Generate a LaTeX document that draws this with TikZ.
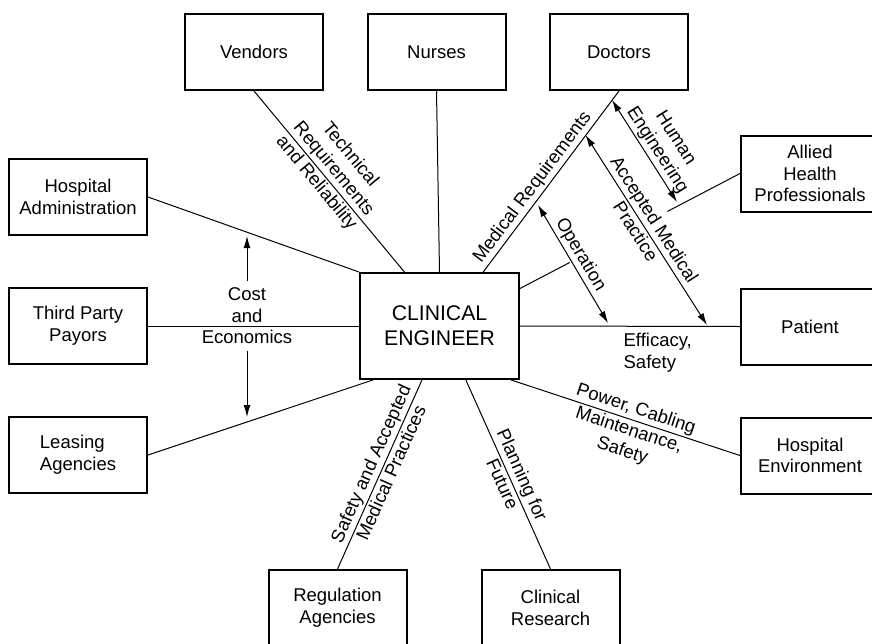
\documentclass[tikz,border=0pt]{standalone}
\usepackage{fontspec}
\setmainfont{Liberation Sans}
\usepackage{tikz}
\usetikzlibrary{calc}
\usetikzlibrary{arrows.meta}
\tikzset{ link_text/.style = {font=\fontsize{9.25}{10.8}\selectfont, align=center} }
\tikzset{ party_box/.style = {rectangle, draw, line width=1pt, minimum width=69pt, minimum height=38pt, link_text} }
\tikzset{ centre_box/.style = {party_box, minimum width=79.5pt, minimum height=53pt, font=\fontsize{10.6}{12.6}\selectfont} }
\tikzset{ link_label/.style = {link_text, sloped, inner sep=1pt} }
\tikzset{ both_ways/.style = {<->, >={Latex[length=6pt, width=3.5pt]}} }
\tikzset{ one_way/.style = {->, >={Latex[length=6pt, width=3.5pt]}} }

\begin{document}
\begin{tikzpicture}[x=0.5pt, y=-0.5pt, line width=0.5pt]
        \useasboundingbox (0,0) rectangle (872,643);
        \node[party_box] (VN) at (254,52) {Vendors};
        \node[party_box] (NR) at (436.5,52) {Nurses};
        \node[party_box] (DR) at (619,52) {Doctors};
        \node[party_box] (AH) at (810,173.5) {Allied\\Health\\Professionals};
        \node[party_box] (PT) at (810,326.5) {Patient};
        \node[party_box] (HE) at (810,455.5) {Hospital\\Environment};
        \node[party_box] (HA) at (78,197) {Hospital\\Administration};
        \node[party_box] (TP) at (78,326) {Third Party\\Payors};
        \node[party_box, align=left] (LA) at (78,455) {Leasing\\Agencies};
        \node[party_box] (RG) at (337.5,608) {Regulation\\Agencies};
        \node[party_box] (CR) at (550.5,608) {Clinical\\Research};
        \node[centre_box] (CE) at (439.5,326) {CLINICAL\\ENGINEER};

        \draw (VN.south) to node[link_label, above, pos=0.47] {Technical\\Requirements}
                node[link_label, below, pos=0.47] {and Reliability} (CE.123);
        \draw (NR.south) to (CE.north);
        \draw (CE.51) to node[link_label, above, pos=0.43] {Medical Requirements} (DR.south);
        \coordinate (AH_end) at ($(AH.west)!0.33!(CE.25)$);
        \coordinate (OP_end) at ($(AH.west)!0.774!(CE.25)$);
        \draw (AH.west) to (AH_end);
        \draw (CE.25) to (OP_end);
        \draw (CE.east) to node[link_text, align=left, below, pos=0.626] {Efficacy,\\Safety} (PT.west);
        \draw (CE.-37) to node[link_label, above, pos=0.53] {Power, Cabling}
                node[link_label, below, pos=0.53] {Maintenance,\\Safety} (HE.west);
        \draw (RG.north) to node[link_label, above, pos=0.53] {Safety and Accepted}
                node[link_label, below, pos=0.53] {Medical Practices} (CE.-108);
        \draw (CE.-64) to node[link_label, above, pos=0.53] {Planning for}
                node[link_label, below, pos=0.53] {Future} (CR.north);
        \draw (LA.east) to (CE.-141);
        \draw (TP.east) to (CE.west);
        \draw (HA.east) to (CE.north west);

        \coordinate (HUM_top) at (612,100);
        \coordinate (HUM_bot) at (677,202);
        \coordinate (AMP_top) at (585.5,135);
        \coordinate (AMP_bot) at (707,325);
        \coordinate (OPR_top) at (538,205);
        \coordinate (OPR_bot) at (608,323);
        \draw[both_ways] (HUM_top) to node[link_label, above, pos=0.55] {Human\\Engineering} (HUM_bot);
        \draw[both_ways] (AMP_top) to node[link_label, above, pos=0.48] {Accepted Medical}
                node[link_label, below, pos=0.48] {Practice} (AMP_bot);
        \draw[both_ways] (OPR_top) to node[link_label, above, pos=0.47] {Operation} (OPR_bot);

        \node[link_text] (COST) at (247,316) {Cost\\and\\Economics};
        \coordinate (COST_up) at (247,236);
        \coordinate (COST_dn) at (247,417);
        \draw[one_way] (COST.north) to (COST_up);
        \draw[one_way] (COST.south) to (COST_dn);
\end{tikzpicture}
\end{document}
